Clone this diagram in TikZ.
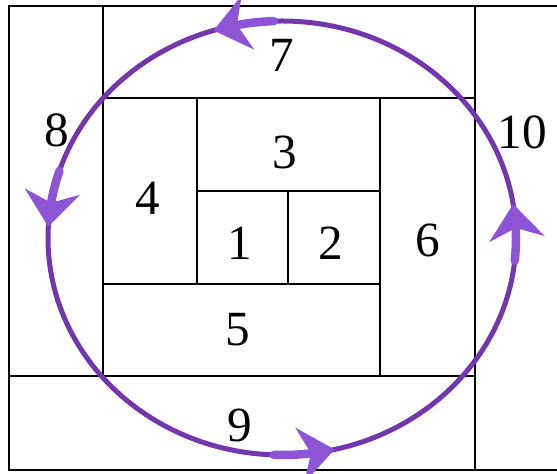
\documentclass[tikz,border=0pt]{standalone}
\usepackage{fontspec}
\setmainfont{Liberation Serif}
\usepackage{tikz}
\usetikzlibrary{arrows.meta, bending}
\definecolor{ringline}{RGB}{116,54,172}
\definecolor{ringhead}{RGB}{142,84,214}

\begin{document}
\begin{tikzpicture}[
    x=0.02cm, y=0.02cm,
    cell/.style={draw=black, line width=0.04cm},
    num/.style={font=\fontsize{28}{30}\selectfont, inner sep=0pt},
    loop/.style={draw=ringline, line width=0.1cm},
    turn/.style={draw=ringhead, line width=0.17cm, line cap=round,
        -{Stealth[length=0.7cm, width=1.1cm, inset=0.22cm, flex]}}
]
    \useasboundingbox (0,0) rectangle (557,473);
    % frame and cells
    \draw[cell] (9,3) rectangle (562,467);
    \draw[cell] (103,467) -- (103,97);
    \draw[cell] (9,97) -- (475,97);
    \draw[cell] (475,3) -- (475,467);
    \draw[cell] (103,375) -- (475,375);
    \draw[cell] (380,97) -- (380,375);
    \draw[cell] (103,189) -- (380,189);
    \draw[cell] (197,189) -- (197,375);
    \draw[cell] (197,282) -- (380,282);
    \draw[cell] (288,189) -- (288,282);

    \node[num] (n1) at (240,230) {1};
    \node[num] (n2) at (331,230) {2};
    \node[num] (n3) at (285,321) {3};
    \node[num] (n4) at (148,275) {4};
    \node[num] (n5) at (238,143) {5};
    \node[num] (n6) at (428,233) {6};
    \node[num] (n7) at (282,418) {7};
    \node[num] (n8) at (57,343) {8};
    \node[num] (n9) at (240,48) {9};
    \node[num] (n10) at (522,341) {10};

    % the loop and its arrows
    \coordinate (c) at (282,235);
    \draw[loop] (c) ellipse [x radius=234, y radius=217];
    \foreach \a in {92,162,268,354}
        \draw[turn] (c) ++(\a:234 and 217)
            arc[start angle=\a, end angle=\a+15, x radius=234, y radius=217];
\end{tikzpicture}
\end{document}
